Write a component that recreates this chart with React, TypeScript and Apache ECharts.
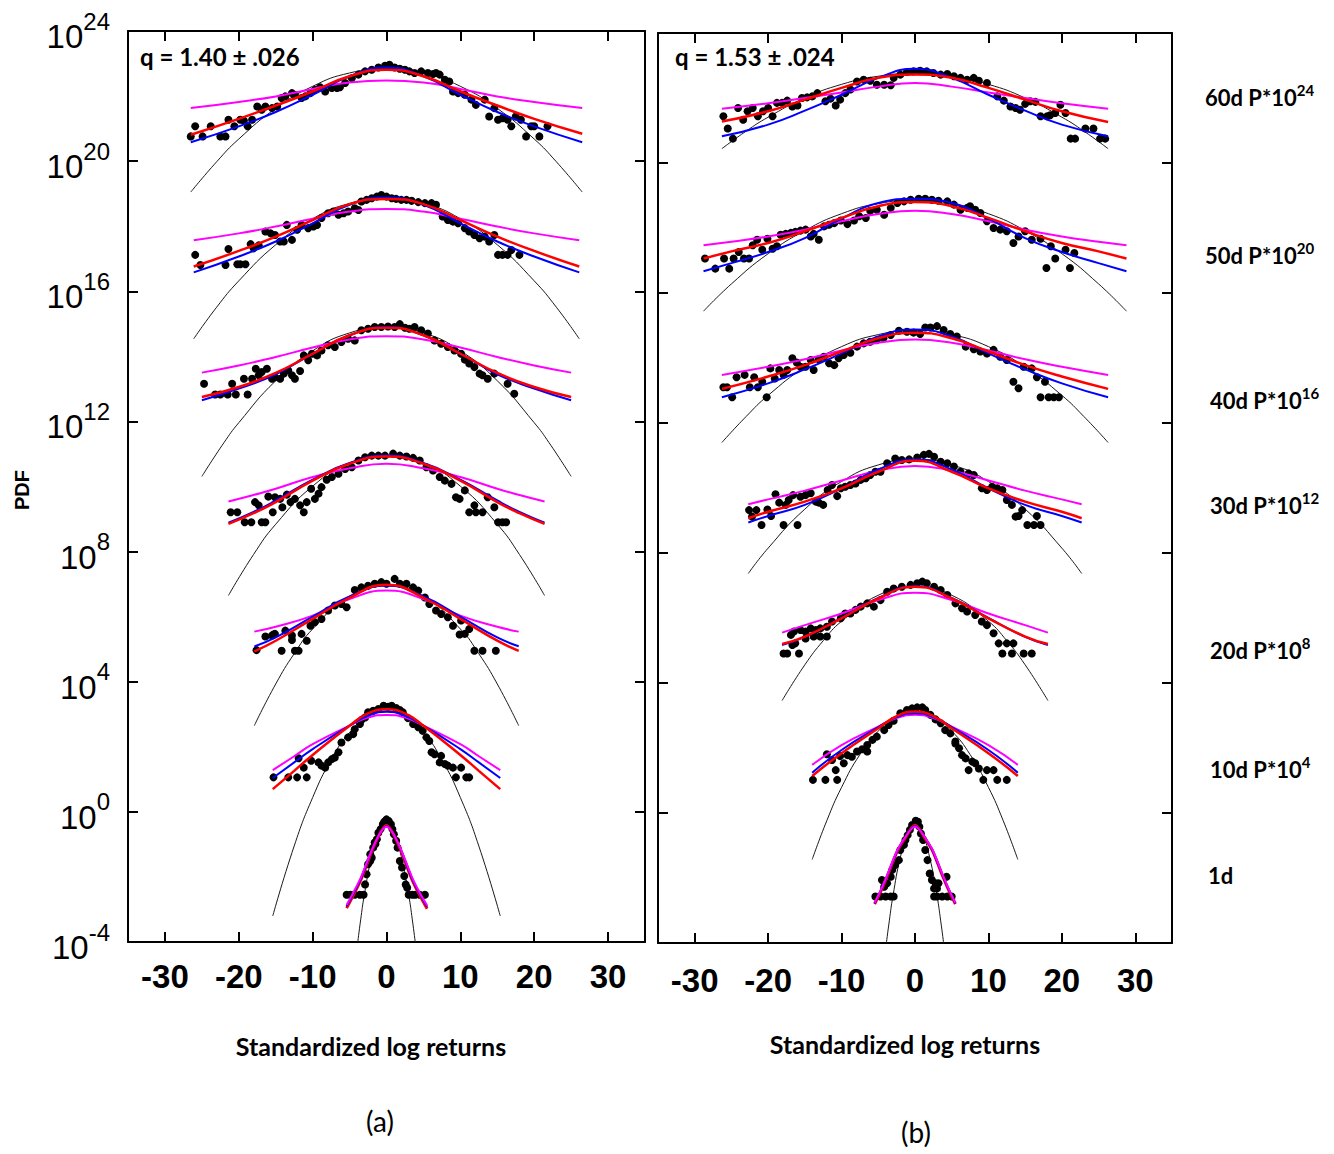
import React, { useEffect, useRef } from 'react';
import * as echarts from 'echarts';

type Pt = [number, number];

// x: standardized log return, y: log10 of plotted PDF (P * 10^offset)
const X_TICKS = [-30, -20, -10, 0, 10, 20, 30];
const HORIZON_NAMES = ['60d P*10', '50d P*10', '40d P*10', '30d P*10', '20d P*10', '10d P*10', '1d'];
const HORIZON_EXPS = ['24', '20', '16', '12', '8', '4', ''];
const Q_LABELS = ['q = 1.40 \u00b1 .026', 'q = 1.53 \u00b1 .024'];

// ---------------- Panel (a) ----------------
const A60_dots: Pt[] = [[-26.5,20.76],[-25.9,21.07],[-24.9,20.76],[-23.8,21.07],[-22.5,20.76],[-21.8,20.76],[-21.4,21.27],[-20.6,21.07],[-19.8,21.27],[-19.3,21.24],[-18.8,21.07],[-18.2,21.27],[-17.5,21.68],[-16.9,21.58],[-16.4,21.68],[-15.5,21.63],[-14.8,21.68],[-14.2,21.94],[-13.7,21.99],[-12.8,22.09],[-12.4,22.04],[-11.5,21.94],[-11.0,21.99],[-10.3,22.09],[-9.7,22.19],[-9.0,22.27],[-8.3,22.14],[-7.4,22.25],[-6.7,22.25],[-6.3,22.27],[-5.6,22.40],[-4.7,22.55],[-3.8,22.66],[-2.9,22.76],[-2.0,22.81],[-1.1,22.88],[-0.2,22.93],[0.4,22.96],[1.1,22.88],[1.8,22.84],[2.5,22.81],[3.1,22.76],[3.8,22.71],[4.7,22.76],[5.6,22.71],[6.3,22.68],[6.7,22.71],[7.2,22.66],[7.9,22.50],[8.5,22.45],[9.0,22.14],[9.7,22.09],[10.6,22.04],[11.5,21.89],[12.1,21.73],[13.3,21.89],[13.9,21.37],[14.6,21.63],[15.1,21.27],[15.7,21.32],[16.4,21.27],[16.9,21.07],[17.5,21.37],[18.2,21.27],[18.9,20.76],[19.6,21.07],[20.0,21.07],[20.7,20.76],[21.8,21.07]];
const A60_gauss: Pt[] = [[-26.5,19.05],[-23,19.98],[-20,20.68],[-15,21.62],[-10,22.30],[-5,22.71],[0,22.84],[5,22.71],[10,22.30],[15,21.62],[20,20.68],[23,19.98],[26.5,19.05]];
const A60_blue: Pt[] = [[-26.5,20.58],[-20,21.07],[-15,21.51],[-10,22.04],[-5,22.61],[0,22.88],[5,22.61],[10,22.04],[15,21.51],[20,21.07],[26.5,20.58]];
const A60_red: Pt[] = [[-26.5,20.81],[-20,21.30],[-15,21.71],[-10,22.14],[-5,22.61],[0,22.81],[5,22.61],[10,22.14],[15,21.71],[20,21.30],[26.5,20.84]];
const A60_mag: Pt[] = [[-26.5,21.63],[-20,21.82],[-15,21.99],[-10,22.22],[-5,22.42],[0,22.48],[5,22.42],[10,22.22],[15,21.99],[20,21.82],[26.5,21.63]];

const A50_dots: Pt[] = [[-25.9,17.12],[-25.2,16.81],[-21.8,16.81],[-21.4,17.30],[-20.2,16.83],[-19.8,16.83],[-19.1,16.83],[-18.4,17.45],[-18.0,17.32],[-17.3,17.41],[-16.4,17.84],[-15.7,17.78],[-15.1,17.73],[-14.4,17.53],[-13.9,17.53],[-13.5,18.04],[-12.8,17.58],[-12.1,17.89],[-11.5,18.04],[-10.6,17.94],[-9.9,17.99],[-9.4,18.04],[-8.8,18.25],[-7.9,18.40],[-7.2,18.45],[-6.5,18.35],[-5.8,18.40],[-5.2,18.45],[-4.3,18.55],[-3.8,18.50],[-3.4,18.76],[-2.7,18.81],[-2.0,18.86],[-1.3,18.91],[-0.7,18.96],[0,18.91],[0.7,18.86],[1.3,18.84],[2.0,18.81],[2.7,18.81],[3.4,18.78],[4.3,18.74],[5.2,18.71],[6.1,18.71],[6.7,18.66],[7.6,18.30],[8.3,18.19],[9.0,18.14],[9.7,18.09],[10.6,17.94],[11.2,17.84],[11.9,17.73],[12.6,17.63],[13.3,17.68],[13.9,17.53],[14.6,17.73],[15.1,17.12],[15.7,17.12],[16.4,17.12],[16.9,17.27],[18.0,17.12]];
const A50_gauss: Pt[] = [[-26.1,14.54],[-23,15.51],[-20,16.32],[-15,17.43],[-10,18.23],[-5,18.70],[0,18.86],[5,18.70],[10,18.23],[15,17.43],[20,16.32],[23,15.51],[26.1,14.54]];
const A50_blue: Pt[] = [[-26.1,16.58],[-20,17.07],[-15,17.53],[-10,18.09],[-5,18.66],[0,18.88],[5,18.66],[10,18.09],[15,17.53],[20,17.07],[26.1,16.58]];
const A50_red: Pt[] = [[-26.1,16.76],[-20,17.24],[-15,17.68],[-10,18.19],[-5,18.68],[0,18.84],[5,18.68],[10,18.19],[15,17.68],[20,17.24],[26.1,16.76]];
const A50_mag: Pt[] = [[-26.1,17.57],[-20,17.78],[-15,17.99],[-10,18.23],[-5,18.45],[0,18.53],[5,18.45],[10,18.23],[15,17.99],[20,17.78],[26.1,17.57]];

const A40_dots: Pt[] = [[-24.7,13.16],[-23.2,12.83],[-22.5,12.83],[-21.5,12.83],[-20.9,13.16],[-20.4,12.83],[-19.3,13.31],[-18.8,12.83],[-18.2,13.31],[-17.7,13.62],[-17.3,13.42],[-16.9,13.52],[-16.2,13.62],[-15.5,13.31],[-15.1,13.36],[-14.4,13.31],[-13.9,13.47],[-13.3,13.57],[-12.8,13.42],[-12.4,13.31],[-11.7,13.55],[-11.2,14.03],[-10.6,13.88],[-10.1,14.08],[-9.4,14.03],[-8.8,14.18],[-7.9,14.34],[-7.0,14.29],[-6.1,14.44],[-5.2,14.54],[-4.3,14.49],[-3.4,14.80],[-2.5,14.85],[-1.6,14.90],[-0.7,14.90],[0.2,14.92],[1.1,14.90],[1.8,14.99],[2.5,14.88],[3.1,14.85],[3.8,14.90],[4.7,14.80],[5.6,14.70],[6.5,14.49],[7.4,14.39],[8.3,14.29],[9.2,14.18],[10.1,14.08],[10.6,13.90],[11.2,13.78],[11.9,13.67],[12.6,13.47],[13.0,13.42],[13.7,13.31],[14.6,13.47],[16.4,13.16],[17.3,12.85]];
const A40_gauss: Pt[] = [[-25,10.31],[-22,11.35],[-20,11.96],[-15,13.25],[-10,14.17],[-5,14.72],[0,14.90],[5,14.72],[10,14.17],[15,13.25],[20,11.96],[22,11.35],[25,10.31]];
const A40_blue: Pt[] = [[-25,12.65],[-20,13.01],[-15,13.45],[-10,14.08],[-5,14.65],[0,14.90],[5,14.65],[10,14.08],[15,13.45],[20,13.01],[25,12.65]];
const A40_red: Pt[] = [[-25,12.75],[-20,13.06],[-15,13.49],[-10,14.08],[-5,14.65],[0,14.88],[5,14.65],[10,14.08],[15,13.49],[20,13.06],[25,12.75]];
const A40_mag: Pt[] = [[-25,13.50],[-20,13.72],[-15,13.98],[-10,14.27],[-5,14.52],[0,14.62],[5,14.52],[10,14.27],[15,13.98],[20,13.72],[25,13.50]];

const A30_dots: Pt[] = [[-21.1,9.21],[-20.2,9.21],[-19.2,8.90],[-18.3,8.90],[-17.8,9.52],[-17.3,9.42],[-16.9,8.90],[-16.4,8.90],[-16.0,9.69],[-15.4,9.21],[-15.1,9.67],[-14.4,9.62],[-14.1,9.36],[-13.5,9.75],[-13.0,9.52],[-12.4,9.62],[-11.7,9.42],[-11.2,9.21],[-10.8,9.52],[-10.2,9.93],[-9.7,9.62],[-9.2,9.78],[-8.8,9.98],[-8.1,10.21],[-7.4,10.29],[-6.5,10.39],[-5.6,10.54],[-4.7,10.59],[-3.8,10.80],[-2.9,10.90],[-2.0,10.95],[-1.1,10.95],[-0.2,10.95],[0.9,11.01],[1.8,10.95],[2.7,10.92],[3.6,10.88],[4.5,10.80],[5.4,10.59],[6.3,10.49],[7.2,10.29],[7.9,10.18],[8.8,10.08],[9.4,9.67],[9.9,9.62],[10.6,9.88],[11.2,9.21],[11.9,9.42],[12.1,9.21],[13.0,9.21],[13.7,9.67],[14.6,9.36],[15.1,8.90],[15.7,8.90],[16.2,8.90]];
const A30_gauss: Pt[] = [[-21.4,6.65],[-18,7.91],[-15,8.84],[-10,10.01],[-5,10.72],[0,10.95],[5,10.72],[10,10.01],[15,8.84],[18,7.91],[21.4,6.65]];
const A30_blue: Pt[] = [[-21.4,8.89],[-18,9.22],[-15,9.57],[-10,10.21],[-5,10.72],[0,10.95],[5,10.72],[10,10.21],[15,9.57],[18,9.22],[21.4,8.89]];
const A30_red: Pt[] = [[-21.4,8.85],[-18,9.18],[-15,9.52],[-10,10.18],[-5,10.70],[0,10.92],[5,10.70],[10,10.18],[15,9.52],[18,9.18],[21.4,8.85]];
const A30_mag: Pt[] = [[-21.4,9.54],[-18,9.74],[-15,9.93],[-10,10.29],[-5,10.56],[0,10.70],[5,10.56],[10,10.29],[15,9.93],[18,9.74],[21.4,9.54]];

const A20_dots: Pt[] = [[-17.6,4.97],[-16.4,5.39],[-15.5,5.42],[-15.3,5.45],[-15.1,5.47],[-14.2,4.95],[-13.7,5.57],[-12.8,5.42],[-12.8,5.28],[-12.4,4.95],[-11.9,4.95],[-11.5,5.47],[-10.8,5.26],[-10.3,5.72],[-9.7,5.83],[-8.8,5.93],[-7.9,6.19],[-7.0,6.34],[-6.1,6.39],[-5.4,6.29],[-4.3,6.82],[-3.4,6.90],[-2.5,6.95],[-1.6,7.01],[-0.7,7.06],[0,7.01],[1.1,7.16],[1.8,7.01],[2.7,7.01],[3.6,6.90],[4.3,6.80],[5.2,6.59],[5.8,6.39],[6.7,6.19],[7.4,6.08],[8.3,5.98],[9.0,5.72],[9.9,5.45],[10.1,5.88],[10.6,5.47],[11.2,5.62],[11.9,4.95],[13.0,4.95],[14.8,4.95]];
const A20_gauss: Pt[] = [[-17.9,2.65],[-15,3.93],[-12.5,4.86],[-10,5.62],[-5,6.63],[0,6.97],[5,6.63],[10,5.62],[12.5,4.86],[15,3.93],[17.9,2.65]];
const A20_blue: Pt[] = [[-17.9,5.08],[-15,5.36],[-10,6.00],[-5,6.62],[0,6.95],[5,6.62],[10,6.00],[15,5.36],[17.9,5.09]];
const A20_red: Pt[] = [[-17.9,4.93],[-15,5.26],[-10,5.93],[-5,6.58],[0,6.98],[5,6.58],[10,5.93],[15,5.26],[17.9,4.95]];
const A20_mag: Pt[] = [[-17.9,5.54],[-15,5.69],[-10,6.03],[-5,6.54],[0,6.80],[5,6.54],[10,6.03],[15,5.69],[17.9,5.54]];

const A10_dots: Pt[] = [[-15.3,1.06],[-13.3,1.06],[-12.1,1.06],[-11.9,1.65],[-11.2,1.36],[-10.8,1.06],[-10.2,1.57],[-9.2,1.52],[-8.8,1.42],[-8.3,1.36],[-7.9,1.52],[-7.4,1.62],[-7.0,1.67],[-6.5,1.83],[-6.1,2.13],[-5.2,2.29],[-4.5,2.39],[-4.3,2.54],[-3.6,2.70],[-3.4,2.82],[-2.9,2.90],[-2.5,3.06],[-1.8,3.11],[-1.1,3.16],[-0.4,3.26],[0.2,3.23],[0.7,3.26],[1.3,3.19],[1.8,3.13],[2.2,3.06],[2.9,2.88],[3.6,2.70],[4.3,2.60],[4.9,2.49],[5.4,2.29],[5.8,2.18],[6.1,1.83],[6.5,1.77],[7.2,1.52],[7.4,1.72],[7.9,1.47],[8.3,1.42],[9.0,1.36],[9.4,1.06],[10.1,1.36],[10.8,1.06],[11.2,1.06]];
const A10_gauss: Pt[] = [[-15.4,-3.2],[-12.5,-1.05],[-10,0.44],[-7.5,1.60],[-5,2.44],[-2.5,2.93],[0,3.1],[2.5,2.93],[5,2.44],[7.5,1.60],[10,0.44],[12.5,-1.05],[15.4,-3.2]];
const A10_blue: Pt[] = [[-15.4,1.04],[-12.5,1.52],[-10,1.93],[-5,2.65],[-2.5,2.95],[0,3.08],[2.5,2.95],[5,2.65],[10,1.93],[12.5,1.52],[15.4,1.04]];
const A10_red: Pt[] = [[-15.4,0.70],[-12.5,1.26],[-10,1.75],[-5,2.65],[-2.5,3.03],[0,3.15],[2.5,3.03],[5,2.65],[10,1.75],[12.5,1.26],[15.4,0.70]];
const A10_mag: Pt[] = [[-15.4,1.28],[-12.5,1.71],[-10,2.08],[-5,2.65],[-2.5,2.90],[0,2.98],[2.5,2.90],[5,2.65],[10,2.08],[12.5,1.71],[15.4,1.28]];

const A1_dots: Pt[] = [[-5.4,-2.55],[-4.9,-2.55],[-4.3,-2.55],[-3.6,-2.55],[-3.1,-2.55],[-2.9,-2.23],[-2.7,-1.92],[-2.5,-1.61],[-2.2,-1.51],[-2.2,-1.30],[-2.0,-1.41],[-1.8,-1.10],[-1.6,-0.94],[-1.5,-0.99],[-1.3,-0.84],[-1.1,-0.64],[-0.8,-0.53],[-0.5,-0.38],[-0.3,-0.30],[0,-0.23],[0.3,-0.28],[0.6,-0.38],[0.8,-0.53],[1.0,-0.69],[1.3,-0.89],[1.5,-1.10],[1.8,-1.51],[2.1,-1.71],[2.4,-1.97],[2.6,-2.23],[2.8,-2.33],[3.0,-2.55],[3.5,-2.55],[3.9,-2.55],[4.5,-2.55],[5.2,-2.55]];
const A1_gauss: Pt[] = [[-3.9,-4.02],[-3.5,-3.32],[-3,-2.55],[-2,-1.37],[-1,-0.66],[0,-0.42],[1,-0.66],[2,-1.37],[3,-2.55],[3.5,-3.32],[3.9,-4.02]];
const A1_blue: Pt[] = [[-5.4,-2.90],[-4.4,-2.48],[-3.4,-2.02],[-2.0,-1.20],[-1.2,-0.80],[-0.6,-0.55],[0,-0.44],[0.6,-0.55],[1.2,-0.80],[2.0,-1.20],[3.4,-2.02],[4.4,-2.48],[5.5,-2.92]];
const A1_red: Pt[] = [[-5.4,-2.96],[-4.4,-2.52],[-3.4,-2.05],[-2.0,-1.22],[-1.2,-0.81],[-0.6,-0.55],[0,-0.42],[0.6,-0.55],[1.2,-0.81],[2.0,-1.22],[3.4,-2.05],[4.4,-2.52],[5.5,-2.98]];
const A1_mag: Pt[] = [[-5.4,-2.86],[-4.4,-2.44],[-3.4,-1.98],[-2.0,-1.18],[-1.2,-0.79],[-0.6,-0.56],[0,-0.46],[0.6,-0.56],[1.2,-0.79],[2.0,-1.18],[3.4,-1.98],[4.4,-2.44],[5.5,-2.88]];

// ---------------- Panel (b) ----------------
const B60_dots: Pt[] = [[-26.1,21.44],[-25.5,21.06],[-24.8,20.75],[-24.1,21.69],[-23.4,21.33],[-22.8,21.59],[-22.1,21.69],[-21.4,21.44],[-20.7,21.59],[-20.0,21.69],[-19.4,21.44],[-18.8,21.85],[-18.1,21.85],[-17.4,21.92],[-16.7,21.74],[-16.0,21.77],[-15.4,22.0],[-14.7,22.02],[-14.0,22.05],[-13.3,22.15],[-12.2,21.90],[-11.5,21.98],[-10.8,21.77],[-10.2,21.95],[-9.5,22.15],[-8.8,22.26],[-7.9,22.51],[-7.0,22.56],[-6.1,22.53],[-5.2,22.41],[-4.2,22.41],[-3.3,22.39],[-2.9,22.62],[-2.0,22.72],[-1.1,22.80],[-0.2,22.82],[0.7,22.84],[1.6,22.82],[2.5,22.77],[3.5,22.72],[4.4,22.74],[5.3,22.67],[6.2,22.62],[7.1,22.56],[8.0,22.62],[8.7,22.53],[9.8,22.46],[11.2,22.05],[12.1,21.92],[13.0,21.74],[13.7,21.69],[14.3,21.64],[15.0,21.82],[15.7,21.90],[16.4,21.88],[17.1,21.44],[18.0,21.44],[18.4,21.47],[19.1,21.54],[19.8,21.79],[20.5,21.54],[21.2,20.75],[21.8,20.75],[23.2,21.06],[24.3,21.06],[25.2,20.75],[25.9,20.75]];
const B60_gauss: Pt[] = [[-26.3,20.44],[-23,20.98],[-20,21.41],[-15,22.0],[-10,22.42],[-5,22.67],[0,22.75],[5,22.67],[10,22.42],[15,22.0],[20,21.41],[23,20.98],[26.3,20.44]];
const B60_blue: Pt[] = [[-26.3,20.82],[-20,21.18],[-15,21.61],[-10,22.10],[-5,22.62],[0,22.90],[5,22.62],[10,22.10],[15,21.61],[20,21.18],[26.3,20.82]];
const B60_red: Pt[] = [[-26.3,21.28],[-20,21.59],[-15,21.95],[-10,22.31],[-5,22.62],[0,22.72],[5,22.62],[10,22.31],[15,21.95],[20,21.59],[26.3,21.26]];
const B60_mag: Pt[] = [[-26.3,21.67],[-20,21.84],[-15,22.0],[-10,22.17],[-5,22.35],[0,22.46],[5,22.35],[10,22.17],[15,22.0],[20,21.84],[26.3,21.67]];

const B50_dots: Pt[] = [[-28.6,17.06],[-27.2,16.75],[-26.0,17.06],[-25.3,16.75],[-24.7,17.06],[-24.0,17.26],[-23.3,17.06],[-22.6,17.06],[-22.1,17.47],[-21.5,17.64],[-20.8,17.33],[-20.1,17.67],[-19.4,17.36],[-18.8,17.44],[-18.3,17.79],[-17.6,17.82],[-16.9,17.85],[-16.3,17.88],[-15.6,17.92],[-14.9,17.95],[-14.2,17.74],[-13.8,17.82],[-13.1,17.64],[-12.4,18.05],[-11.7,18.10],[-11.0,18.15],[-10.1,18.23],[-9.2,18.12],[-8.3,18.23],[-7.6,18.36],[-6.7,18.31],[-6.1,18.53],[-5.2,18.56],[-4.2,18.41],[-3.3,18.62],[-2.4,18.77],[-1.5,18.82],[-0.6,18.87],[0.5,18.90],[1.4,18.90],[2.3,18.87],[3.2,18.84],[4.4,18.82],[5.3,18.72],[6.2,18.56],[7.1,18.62],[7.5,18.67],[8.2,18.56],[8.9,18.46],[9.8,18.21],[10.7,18.0],[11.6,17.95],[12.5,17.90],[13.4,17.54],[14.1,17.74],[15.0,17.90],[15.9,17.64],[17.1,17.67],[17.9,16.77],[18.5,17.44],[19.1,17.06],[20.5,17.33],[21.1,16.77],[21.7,17.23]];
const B50_gauss: Pt[] = [[-28.8,15.44],[-25,16.28],[-20,17.21],[-15,17.92],[-10,18.44],[-5,18.75],[0,18.85],[5,18.75],[10,18.44],[15,17.92],[20,17.21],[25,16.28],[28.8,15.44]];
const B50_blue: Pt[] = [[-28.8,16.67],[-25,16.92],[-20,17.26],[-15,17.69],[-10,18.29],[-5,18.77],[0,18.90],[5,18.77],[10,18.29],[15,17.69],[20,17.26],[25,16.92],[28.8,16.67]];
const B50_red: Pt[] = [[-28.8,17.06],[-25,17.28],[-20,17.54],[-15,17.90],[-10,18.31],[-5,18.67],[0,18.80],[5,18.67],[10,18.31],[15,17.90],[20,17.54],[25,17.28],[28.8,17.06]];
const B50_mag: Pt[] = [[-28.8,17.47],[-25,17.58],[-20,17.74],[-15,17.95],[-10,18.21],[-5,18.43],[0,18.53],[5,18.43],[10,18.21],[15,17.95],[20,17.74],[25,17.58],[28.8,17.47]];

const B40_dots: Pt[] = [[-26.1,13.10],[-25.6,13.10],[-24.9,12.79],[-24.3,13.41],[-23.2,13.48],[-22.5,13.10],[-21.9,13.41],[-21.4,13.10],[-20.8,13.27],[-20.2,12.79],[-19.7,13.68],[-19.1,13.37],[-18.5,13.63],[-17.9,13.48],[-17.4,13.63],[-16.7,13.99],[-16.1,13.86],[-15.6,13.73],[-14.9,13.73],[-14.2,13.94],[-13.8,13.63],[-13.1,13.96],[-12.4,14.04],[-11.7,13.84],[-11.0,13.78],[-10.4,13.99],[-9.7,14.09],[-8.8,14.16],[-7.9,14.35],[-7.0,14.45],[-6.1,14.50],[-5.2,14.55],[-4.3,14.61],[-3.3,14.71],[-2.2,14.84],[-1.1,14.81],[-0.2,14.78],[0.7,14.74],[1.4,14.94],[2.1,14.94],[3.0,14.98],[3.9,14.86],[4.8,14.74],[5.7,14.66],[6.9,14.35],[8.0,14.27],[8.9,14.20],[9.8,14.14],[10.7,14.25],[11.6,14.04],[12.5,13.94],[13.4,13.27],[14.1,13.07],[14.8,13.73],[15.9,13.68],[16.6,13.41],[17.1,12.79],[17.7,13.27],[18.2,12.79],[18.9,12.79],[19.6,12.79]];
const B40_gauss: Pt[] = [[-26.3,11.40],[-23,12.20],[-20,12.85],[-15,13.72],[-10,14.35],[-5,14.72],[0,14.85],[5,14.72],[10,14.35],[15,13.72],[20,12.85],[23,12.20],[26.3,11.40]];
const B40_blue: Pt[] = [[-26.3,12.79],[-20,13.22],[-15,13.65],[-10,14.14],[-5,14.66],[0,14.88],[5,14.66],[10,14.14],[15,13.65],[20,13.22],[26.3,12.79]];
const B40_red: Pt[] = [[-26.3,13.05],[-20,13.43],[-15,13.78],[-10,14.20],[-5,14.61],[0,14.78],[5,14.61],[10,14.20],[15,13.78],[20,13.43],[26.3,13.05]];
const B40_mag: Pt[] = [[-26.3,13.48],[-20,13.73],[-15,13.96],[-10,14.23],[-5,14.47],[0,14.57],[5,14.47],[10,14.23],[15,13.96],[20,13.73],[26.3,13.48]];

const B30_dots: Pt[] = [[-22.6,9.32],[-22.2,9.12],[-21.6,9.32],[-20.9,8.86],[-20.1,9.34],[-19.6,9.14],[-19.0,9.81],[-18.5,9.55],[-17.9,8.86],[-17.6,9.48],[-17.2,9.63],[-16.6,9.78],[-16.0,8.86],[-15.6,9.73],[-14.9,9.78],[-14.2,9.84],[-13.5,9.58],[-13.1,9.55],[-12.5,9.48],[-11.9,9.94],[-11.3,10.09],[-10.6,9.75],[-10.1,9.99],[-9.5,10.04],[-8.8,10.09],[-8.1,10.14],[-7.4,10.25],[-6.7,10.30],[-6.1,10.40],[-5.4,10.50],[-4.7,10.50],[-3.8,10.76],[-2.7,10.91],[-1.8,10.86],[-0.8,10.88],[0.3,10.94],[1.2,11.02],[1.9,11.05],[2.6,10.96],[3.5,10.81],[4.4,10.76],[5.3,10.66],[6.2,10.50],[7.3,10.45],[8.0,10.40],[9.1,9.99],[9.8,9.94],[10.5,10.04],[11.2,9.99],[11.9,9.94],[12.5,9.63],[13.2,9.48],[13.7,9.12],[14.1,9.14],[14.6,9.32],[15.3,8.86],[16.2,8.86],[16.6,9.14],[17.1,8.86]];
const B30_gauss: Pt[] = [[-22.7,7.37],[-20,8.15],[-15,9.35],[-10,10.20],[-5,10.71],[0,10.88],[5,10.71],[10,10.20],[15,9.35],[20,8.15],[22.7,7.37]];
const B30_blue: Pt[] = [[-22.7,8.94],[-20,9.14],[-15,9.48],[-10,9.99],[-5,10.57],[0,10.88],[5,10.57],[10,9.99],[15,9.48],[20,9.14],[22.7,8.94]];
const B30_red: Pt[] = [[-22.7,9.07],[-20,9.27],[-15,9.58],[-10,9.99],[-5,10.50],[0,10.84],[5,10.50],[10,9.99],[15,9.58],[20,9.27],[22.7,9.07]];
const B30_mag: Pt[] = [[-22.7,9.50],[-20,9.65],[-15,9.92],[-10,10.23],[-5,10.53],[0,10.68],[5,10.53],[10,10.23],[15,9.92],[20,9.65],[22.7,9.50]];

const B20_dots: Pt[] = [[-17.9,4.91],[-17.4,4.91],[-16.9,5.48],[-16.7,5.17],[-16.5,5.58],[-16.3,5.22],[-15.8,4.91],[-15.6,5.63],[-14.9,5.58],[-14.9,5.37],[-14.2,5.68],[-13.8,5.43],[-13.5,5.63],[-12.9,5.68],[-12.9,5.43],[-12.0,5.73],[-12.0,5.43],[-11.3,5.89],[-10.1,5.99],[-9.5,6.14],[-8.8,6.14],[-8.1,6.25],[-7.4,6.35],[-6.5,6.45],[-5.6,6.35],[-4.7,6.55],[-3.8,6.81],[-2.9,6.91],[-1.8,6.96],[-0.6,7.02],[0.3,7.07],[1.0,7.12],[1.6,7.07],[2.6,6.96],[3.5,6.86],[4.4,6.71],[5.5,6.45],[6.4,6.30],[7.1,6.20],[8.2,6.09],[9.1,5.89],[9.8,5.78],[10.7,5.53],[11.4,5.22],[11.9,4.91],[12.5,5.22],[13.2,4.91],[13.4,5.22],[14.8,4.91],[15.9,4.91]];
const B20_gauss: Pt[] = [[-18.1,3.46],[-15,4.56],[-12.5,5.30],[-10,5.90],[-5,6.70],[0,6.97],[5,6.70],[10,5.90],[12.5,5.30],[15,4.56],[18.1,3.46]];
const B20_blue: Pt[] = [[-18.1,5.17],[-15,5.42],[-10,6.00],[-5,6.62],[0,6.98],[5,6.62],[10,6.00],[15,5.42],[18.1,5.17]];
const B20_red: Pt[] = [[-18.1,5.20],[-15,5.43],[-10,5.99],[-5,6.60],[0,6.96],[5,6.60],[10,5.99],[15,5.43],[18.1,5.20]];
const B20_mag: Pt[] = [[-18.1,5.55],[-15,5.78],[-10,6.14],[-5,6.55],[0,6.78],[5,6.55],[10,6.14],[15,5.78],[18.1,5.55]];

const B10_dots: Pt[] = [[-13.9,1.02],[-12.2,1.02],[-12.0,1.81],[-11.3,1.63],[-10.8,1.32],[-10.6,1.02],[-10.2,1.75],[-9.7,1.53],[-9.2,1.78],[-8.6,1.73],[-7.9,1.89],[-7.2,1.96],[-6.5,1.89],[-6.5,2.09],[-5.8,2.25],[-5.2,2.35],[-4.2,2.55],[-3.6,2.71],[-2.9,2.84],[-2.0,3.07],[-1.1,3.17],[-0.4,3.22],[0.3,3.25],[1.0,3.25],[1.4,3.17],[2.1,3.02],[2.8,2.88],[3.5,2.76],[4.1,2.55],[4.8,2.45],[5.5,2.14],[5.5,2.20],[6.0,1.99],[6.4,1.78],[6.9,1.68],[7.3,1.32],[7.8,1.58],[8.2,1.53],[8.7,1.37],[9.3,1.02],[9.8,1.32],[10.7,1.32],[11.2,1.02],[12.5,1.02]];
const B10_gauss: Pt[] = [[-14,-1.43],[-12,-0.23],[-10,0.79],[-7.5,1.80],[-5,2.52],[-2.5,2.96],[0,3.1],[2.5,2.96],[5,2.52],[7.5,1.80],[10,0.79],[12,-0.23],[14,-1.43]];
const B10_blue: Pt[] = [[-14,1.24],[-10,1.94],[-5,2.64],[-2.5,2.95],[0,3.07],[2.5,2.95],[5,2.64],[10,1.94],[14,1.24]];
const B10_red: Pt[] = [[-14,1.14],[-10,1.84],[-5,2.61],[-2.5,2.98],[0,3.12],[2.5,2.98],[5,2.61],[10,1.84],[14,1.14]];
const B10_mag: Pt[] = [[-14,1.48],[-10,2.09],[-5,2.66],[-2.5,2.92],[0,3.02],[2.5,2.92],[5,2.66],[10,2.09],[14,1.48]];

const B1_dots: Pt[] = [[-5.4,-2.57],[-4.7,-2.57],[-4.0,-2.57],[-3.3,-2.57],[-2.9,-2.57],[-4.5,-2.06],[-4.2,-2.27],[-3.8,-2.16],[-3.3,-1.96],[-3.1,-1.75],[-2.7,-1.60],[-2.2,-1.45],[-2.0,-1.14],[-1.5,-0.98],[-1.3,-0.83],[-1.0,-0.68],[-0.7,-0.52],[-0.4,-0.37],[0.1,-0.24],[0.4,-0.27],[0.6,-0.42],[0.8,-0.63],[1.1,-0.83],[1.4,-1.14],[1.7,-1.45],[2.0,-1.86],[2.3,-2.06],[2.8,-2.16],[3.2,-2.16],[2.6,-2.32],[3.0,-2.32],[4.3,-1.96],[2.6,-2.57],[3.0,-2.57],[3.7,-2.57],[4.4,-2.57],[5.0,-2.57]];
const B1_gauss: Pt[] = [[-3.9,-4.01],[-3.5,-3.32],[-3,-2.55],[-2,-1.37],[-1,-0.66],[0,-0.42],[1,-0.66],[2,-1.37],[3,-2.55],[3.5,-3.32],[3.9,-4.01]];
const B1_blue: Pt[] = [[-5.5,-2.78],[-4.6,-2.36],[-3.8,-1.94],[-2.4,-1.16],[-1.2,-0.70],[-0.6,-0.50],[0,-0.40],[0.6,-0.50],[1.2,-0.70],[2.4,-1.16],[3.8,-1.94],[4.6,-2.36],[5.5,-2.78]];
const B1_red: Pt[] = [[-5.5,-2.80],[-4.6,-2.38],[-3.8,-1.96],[-2.4,-1.17],[-1.2,-0.72],[-0.6,-0.50],[0,-0.38],[0.6,-0.50],[1.2,-0.72],[2.4,-1.17],[3.8,-1.96],[4.6,-2.38],[5.5,-2.80]];
const B1_mag: Pt[] = [[-5.5,-2.76],[-4.6,-2.34],[-3.8,-1.92],[-2.4,-1.14],[-1.2,-0.70],[-0.6,-0.51],[0,-0.42],[0.6,-0.51],[1.2,-0.70],[2.4,-1.14],[3.8,-1.92],[4.6,-2.34],[5.5,-2.76]];

type Horizon = { dots: Pt[]; gauss: Pt[]; mag: Pt[]; blue: Pt[]; red: Pt[] };
const PANEL_A: Horizon[] = [
  { dots: A60_dots, gauss: A60_gauss, mag: A60_mag, blue: A60_blue, red: A60_red },
  { dots: A50_dots, gauss: A50_gauss, mag: A50_mag, blue: A50_blue, red: A50_red },
  { dots: A40_dots, gauss: A40_gauss, mag: A40_mag, blue: A40_blue, red: A40_red },
  { dots: A30_dots, gauss: A30_gauss, mag: A30_mag, blue: A30_blue, red: A30_red },
  { dots: A20_dots, gauss: A20_gauss, mag: A20_mag, blue: A20_blue, red: A20_red },
  { dots: A10_dots, gauss: A10_gauss, mag: A10_mag, blue: A10_blue, red: A10_red },
  { dots: A1_dots, gauss: A1_gauss, mag: A1_mag, blue: A1_blue, red: A1_red },
];
const PANEL_B: Horizon[] = [
  { dots: B60_dots, gauss: B60_gauss, mag: B60_mag, blue: B60_blue, red: B60_red },
  { dots: B50_dots, gauss: B50_gauss, mag: B50_mag, blue: B50_blue, red: B50_red },
  { dots: B40_dots, gauss: B40_gauss, mag: B40_mag, blue: B40_blue, red: B40_red },
  { dots: B30_dots, gauss: B30_gauss, mag: B30_mag, blue: B30_blue, red: B30_red },
  { dots: B20_dots, gauss: B20_gauss, mag: B20_mag, blue: B20_blue, red: B20_red },
  { dots: B10_dots, gauss: B10_gauss, mag: B10_mag, blue: B10_blue, red: B10_red },
  { dots: B1_dots, gauss: B1_gauss, mag: B1_mag, blue: B1_blue, red: B1_red },
];

const AXIS_FONT = '"Liberation Sans", Arial, Helvetica, sans-serif';
const TEXT_FONT = 'Lato, "Open Sans", sans-serif';

function panelSeries(g: number, hs: Horizon[]) {
  const out: any[] = [];
  const base = { xAxisIndex: g * 2, yAxisIndex: g * 2, silent: true, animation: false };
  hs.forEach((h, i) => {
    const last = i === hs.length - 1;
    out.push({ ...base, type: 'line', data: h.gauss, smooth: 0.5, showSymbol: false, symbol: 'none', lineStyle: { color: '#1a1a1a', width: 1 }, z: 1 });
    out.push({ ...base, type: 'scatter', data: h.dots, symbol: 'circle', symbolSize: 8, itemStyle: { color: '#000', opacity: 1 }, z: 2 });
    out.push({ ...base, type: 'line', data: h.red, smooth: last ? 0.3 : 0.5, showSymbol: false, symbol: 'none', lineStyle: { color: '#ff0000', width: last ? 3 : 2.5 }, z: last ? 3 : 5 });
    out.push({ ...base, type: 'line', data: h.blue, smooth: last ? 0.3 : 0.5, showSymbol: false, symbol: 'none', lineStyle: { color: '#0000ff', width: 2 }, z: 4 });
    out.push({ ...base, type: 'line', data: h.mag, smooth: last ? 0.3 : 0.5, showSymbol: false, symbol: 'none', lineStyle: { color: '#ff00ff', width: 2 }, z: last ? 5 : 3 });
  });
  return out;
}

function axesFor(g: number, showYLabels: boolean) {
  const line = { show: true, onZero: false, lineStyle: { color: '#000', width: 2 } };
  const tick = { show: true, inside: true, length: 10, lineStyle: { color: '#000', width: 2 } };
  const xBottom = {
    gridIndex: g, type: 'value', min: -35, max: 35, position: 'bottom',
    axisLine: line,
    axisTick: { ...tick, customValues: X_TICKS },
    axisLabel: { show: true, customValues: X_TICKS, fontSize: 33, fontWeight: 'bold', fontFamily: AXIS_FONT, color: '#000', margin: 18 + g * 3 },
    splitLine: { show: false },
  };
  const xTop = {
    gridIndex: g, type: 'value', min: -35, max: 35, position: 'top',
    axisLine: line,
    axisTick: { ...tick, customValues: X_TICKS },
    axisLabel: { show: false, customValues: X_TICKS },
    splitLine: { show: false },
  };
  const yLeft = {
    gridIndex: g, type: 'value', min: -4, max: 24, interval: 4, position: 'left',
    axisLine: line, axisTick: tick, splitLine: { show: false },
    axisLabel: {
      show: showYLabels, margin: 18, color: '#000',
      formatter: (v: number) => `{b|10}{s|${v}}`,
      rich: {
        b: { fontSize: 33, fontFamily: AXIS_FONT, color: '#000', lineHeight: 44, verticalAlign: 'bottom' },
        s: { fontSize: 24, fontFamily: AXIS_FONT, color: '#000', lineHeight: 24, verticalAlign: 'top' },
      },
    },
  };
  const yRight = {
    gridIndex: g, type: 'value', min: -4, max: 24, interval: 4, position: 'right',
    axisLine: line, axisTick: tick, splitLine: { show: false }, axisLabel: { show: false },
  };
  return { x: [xBottom, xTop], y: [yLeft, yRight] };
}

function textEl(x: number, y: number, text: string, font: string, align = 'left', extra: any = {}) {
  return {
    type: 'text', x, y, silent: true, ...extra,
    style: { text, font, fill: '#000', align, verticalAlign: 'middle', textAlign: align, textVerticalAlign: 'middle' },
  };
}

const HORIZON_LABEL_POS: [number, number][] = [[1205, 95], [1205, 253], [1210, 398], [1210, 503], [1210, 648], [1210, 767], [1208, 873]];

export default function App() {
  const ref = useRef<HTMLDivElement>(null);
  useEffect(() => {
    if (!ref.current) return;
    const chart = echarts.init(ref.current, undefined, { renderer: 'svg' });
    const a = axesFor(0, true);
    const b = axesFor(1, false);
    const graphics: any[] = [];
    graphics.push(textEl(140, 56, Q_LABELS[0], `bold 24px ${TEXT_FONT}`));
    graphics.push(textEl(675, 56, Q_LABELS[1], `bold 24px ${TEXT_FONT}`));
    graphics.push(textEl(371, 1046, 'Standardized log returns', `bold 25px ${TEXT_FONT}`, 'center'));
    graphics.push(textEl(905, 1044, 'Standardized log returns', `bold 25px ${TEXT_FONT}`, 'center'));
    graphics.push(textEl(22, 490, 'PDF', `bold 20px ${AXIS_FONT}`, 'center', { rotation: Math.PI / 2 }));
    graphics.push(textEl(380, 1121, '(a)', `28px ${TEXT_FONT}`, 'center'));
    graphics.push(textEl(916, 1132, '(b)', `28px ${TEXT_FONT}`, 'center'));
    HORIZON_NAMES.forEach((name, i) => {
      const [x, y] = HORIZON_LABEL_POS[i];
      const exp = HORIZON_EXPS[i];
      graphics.push({
        type: 'text', x, y, silent: true,
        style: {
          text: exp ? `{m|${name}}{s|${exp}}` : `{m|${name}}`,
          align: 'left', verticalAlign: 'middle', textAlign: 'left', textVerticalAlign: 'middle',
          rich: {
            m: { fontFamily: TEXT_FONT, fontWeight: 'bold', fontSize: 22, fill: '#000', color: '#000', lineHeight: 26, verticalAlign: 'bottom' },
            s: { fontFamily: TEXT_FONT, fontWeight: 'bold', fontSize: 15, fill: '#000', color: '#000', lineHeight: 20, verticalAlign: 'top' },
          },
        },
      });
    });

    chart.setOption({
      animation: false,
      backgroundColor: '#fff',
      grid: [
        { left: 128, top: 31, width: 517, height: 911, containLabel: false },
        { left: 658, top: 33, width: 514, height: 910, containLabel: false },
      ],
      xAxis: [...a.x, ...b.x],
      yAxis: [...a.y, ...b.y],
      series: [...panelSeries(0, PANEL_A), ...panelSeries(1, PANEL_B)],
      graphic: graphics,
    });
    return () => chart.dispose();
  }, []);
  return <div ref={ref} style={{ position: 'fixed', left: 0, top: 0, width: 1334, height: 1154, background: '#fff' }} />;
}
